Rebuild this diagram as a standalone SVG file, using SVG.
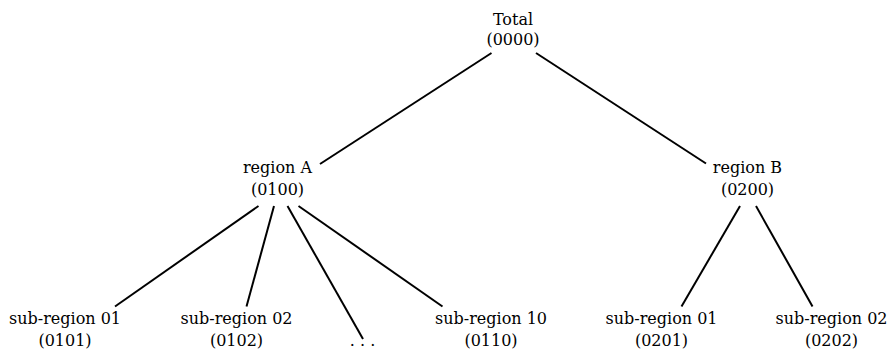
<svg xmlns="http://www.w3.org/2000/svg" width="892" height="351" viewBox="0 0 892 351">
<style>
text{font-family:"DejaVu Serif","Liberation Serif",serif;font-size:16px;fill:#000;text-anchor:middle}
.e{stroke:#000;stroke-width:2;fill:none}
</style>
<rect width="892" height="351" fill="#fff"/>
<g id="connectors">
<line class="e" x1="491.5" y1="53" x2="320" y2="164"/>
<line class="e" x1="536" y1="53" x2="706" y2="163.5"/>
<line class="e" x1="258.5" y1="206" x2="115" y2="306.5"/>
<line class="e" x1="274" y1="206" x2="246.5" y2="306.5"/>
<line class="e" x1="287.5" y1="206" x2="363" y2="339"/>
<line class="e" x1="298.5" y1="206" x2="442.5" y2="306.5"/>
<line class="e" x1="740" y1="206" x2="681.5" y2="306.5"/>
<line class="e" x1="756" y1="206" x2="812.5" y2="306.5"/>
</g>
<g id="total"><text x="513" y="25">Total</text><text x="513" y="45">(0000)</text></g>
<g id="regionA"><text x="277.5" y="173">region A</text><text x="277.5" y="195">(0100)</text></g>
<g id="regionB"><text x="747.5" y="173">region B</text><text x="747.5" y="195">(0200)</text></g>
<g id="a01"><text x="65" y="324">sub-region 01</text><text x="65" y="346">(0101)</text></g>
<g id="a02"><text x="236.5" y="324">sub-region 02</text><text x="236.5" y="346">(0102)</text></g>
<g id="adots"><text x="362.5" y="346">. . .</text></g>
<g id="a10"><text x="491" y="324">sub-region 10</text><text x="491" y="346">(0110)</text></g>
<g id="b01"><text x="661.5" y="324">sub-region 01</text><text x="661.5" y="346">(0201)</text></g>
<g id="b02"><text x="831.5" y="324">sub-region 02</text><text x="831.5" y="346">(0202)</text></g>
</svg>
